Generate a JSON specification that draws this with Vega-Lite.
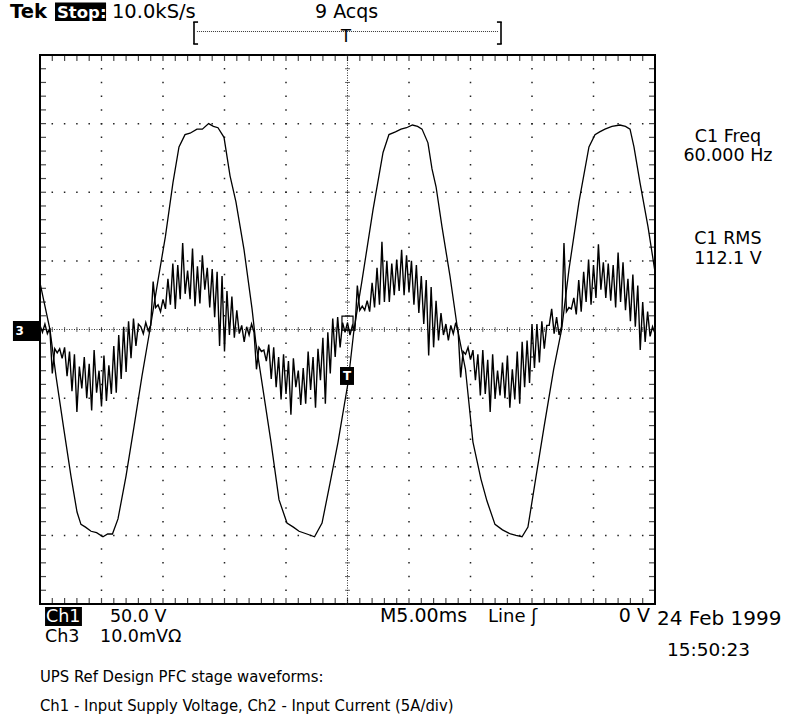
{
  "$schema": "https://vega.github.io/schema/vega-lite/v6.json",
  "width": 615,
  "height": 549,
  "autosize": {"type": "none"},
  "padding": {"left": 40, "top": 55, "right": 130, "bottom": 115},
  "background": "white",
  "config": {"view": {"stroke": "black", "strokeWidth": 2}},
  "datasets": {
    "voltage": [
      {"t":0,"v":34},{"t":0.81,"v":0},{"t":1.30,"v":-34},{"t":1.91,"v":-71},{"t":2.52,"v":-107},{"t":3.01,"v":-133},{"t":3.33,"v":-142},{"t":3.7,"v":-144},{"t":4.15,"v":-147},{"t":4.6,"v":-148},{"t":5.12,"v":-151},{"t":5.5,"v":-149},{"t":5.89,"v":-149},{"t":6.34,"v":-138},{"t":6.99,"v":-107},{"t":7.64,"v":-71},{"t":8.29,"v":-34},{"t":8.94,"v":0},{"t":9.56,"v":34},{"t":10.20,"v":68},{"t":10.81,"v":107},{"t":11.30,"v":133},{"t":11.79,"v":142},{"t":12.2,"v":143},{"t":12.76,"v":146},{"t":13.2,"v":146},{"t":13.71,"v":150},{"t":14.1,"v":148},{"t":14.47,"v":147},{"t":14.96,"v":140},{"t":15.45,"v":112},{"t":15.93,"v":93},{"t":16.59,"v":58},{"t":17.24,"v":15},{"t":17.54,"v":-9},{"t":18.17,"v":-46},{"t":18.78,"v":-82},{"t":19.43,"v":-124},{"t":20.08,"v":-141},{"t":20.6,"v":-144},{"t":21.06,"v":-147},{"t":21.7,"v":-149},{"t":22.32,"v":-151},{"t":22.93,"v":-141},{"t":23.58,"v":-112},{"t":24.23,"v":-82},{"t":25.04,"v":-39},{"t":25.53,"v":0},{"t":26.15,"v":34},{"t":27.07,"v":87},{"t":27.89,"v":129},{"t":28.37,"v":142},{"t":28.9,"v":144},{"t":29.35,"v":146},{"t":29.8,"v":147},{"t":30.28,"v":149},{"t":30.7,"v":148},{"t":31.06,"v":146},{"t":31.54,"v":136},{"t":31.87,"v":117},{"t":32.20,"v":104},{"t":32.68,"v":75},{"t":33.33,"v":39},{"t":33.95,"v":0},{"t":34.59,"v":-29},{"t":35.20,"v":-82},{"t":35.85,"v":-109},{"t":36.34,"v":-125},{"t":36.99,"v":-142},{"t":37.6,"v":-146},{"t":38.26,"v":-149},{"t":38.7,"v":-150},{"t":39.19,"v":-151},{"t":39.67,"v":-144},{"t":40.33,"v":-107},{"t":40.98,"v":-71},{"t":41.76,"v":-29},{"t":42.41,"v":0},{"t":43.01,"v":44},{"t":43.82,"v":93},{"t":44.63,"v":133},{"t":45.12,"v":142},{"t":45.5,"v":144},{"t":45.93,"v":146},{"t":46.5,"v":148},{"t":47.15,"v":149},{"t":47.6,"v":148},{"t":47.97,"v":146},{"t":48.29,"v":133},{"t":48.78,"v":107},{"t":49.43,"v":75},{"t":50,"v":42}
    ],
    "current": [
      {"t":0.0,"i":0.3},{"t":0.2,"i":-0.2},{"t":0.4,"i":0.4},{"t":0.6,"i":-0.3},{"t":0.8,"i":0.1},
      {"t":1.0,"i":-3.2},{"t":1.2,"i":-1.4},{"t":1.4,"i":-1.7},{"t":1.6,"i":-1.4},{"t":1.8,"i":-2.1},{"t":2.0,"i":-1.3},{"t":2.2,"i":-3.4},{"t":2.4,"i":-1.6},{"t":2.6,"i":-4.5},{"t":2.8,"i":-1.8},{"t":3.0,"i":-6.0},{"t":3.2,"i":-2.7},{"t":3.4,"i":-4.3},{"t":3.6,"i":-2.0},{"t":3.8,"i":-5.0},{"t":4.0,"i":-2.5},{"t":4.2,"i":-5.9},{"t":4.4,"i":-1.5},{"t":4.6,"i":-4.6},{"t":4.8,"i":-3.0},{"t":5.0,"i":-5.6},{"t":5.2,"i":-1.9},{"t":5.4,"i":-5.2},{"t":5.6,"i":-2.6},{"t":5.8,"i":-4.7},{"t":6.0,"i":-1.2},{"t":6.2,"i":-4.6},{"t":6.4,"i":-0.4},{"t":6.6,"i":-3.6},{"t":6.8,"i":0.2},{"t":7.0,"i":-3.1},{"t":7.2,"i":0.6},{"t":7.4,"i":-2.1},{"t":7.6,"i":0.8},{"t":7.8,"i":-1.2},{"t":8.0,"i":0.4},
      {"t":8.2,"i":0.2},{"t":8.4,"i":-0.3},{"t":8.6,"i":0.5},{"t":8.8,"i":-0.1},{"t":9.0,"i":0.3},
      {"t":9.2,"i":3.5},{"t":9.4,"i":1.6},{"t":9.6,"i":1.8},{"t":9.8,"i":1.3},{"t":10.0,"i":2.2},{"t":10.2,"i":1.5},{"t":10.4,"i":3.7},{"t":10.6,"i":1.8},{"t":10.8,"i":4.8},{"t":11.0,"i":1.5},{"t":11.2,"i":4.7},{"t":11.4,"i":2.2},{"t":11.6,"i":6.3},{"t":11.8,"i":2.6},{"t":12.0,"i":4.3},{"t":12.2,"i":2.2},{"t":12.4,"i":5.9},{"t":12.6,"i":1.7},{"t":12.8,"i":4.6},{"t":13.0,"i":1.9},{"t":13.2,"i":5.4},{"t":13.4,"i":2.9},{"t":13.6,"i":4.5},{"t":13.8,"i":1.6},{"t":14.0,"i":4.4},{"t":14.2,"i":0.9},{"t":14.4,"i":4.2},{"t":14.6,"i":-1.2},{"t":14.8,"i":3.9},{"t":15.0,"i":-1.6},{"t":15.2,"i":2.8},{"t":15.4,"i":-0.4},{"t":15.6,"i":2.4},{"t":15.8,"i":-0.6},{"t":16.0,"i":1.4},{"t":16.2,"i":-0.3},
      {"t":16.4,"i":0.3},{"t":16.6,"i":-0.9},{"t":16.8,"i":0.2},{"t":17.0,"i":-0.4},{"t":17.2,"i":0.4},{"t":17.4,"i":-0.2},
      {"t":17.6,"i":-2.9},{"t":17.8,"i":-1.3},{"t":18.0,"i":-1.6},{"t":18.2,"i":-1.5},{"t":18.4,"i":-2.3},{"t":18.6,"i":-1.1},{"t":18.8,"i":-3.6},{"t":19.0,"i":-1.3},{"t":19.2,"i":-4.2},{"t":19.4,"i":-2.0},{"t":19.6,"i":-5.1},{"t":19.8,"i":-1.8},{"t":20.0,"i":-4.7},{"t":20.2,"i":-2.3},{"t":20.4,"i":-6.2},{"t":20.6,"i":-2.1},{"t":20.8,"i":-4.2},{"t":21.0,"i":-3.0},{"t":21.2,"i":-5.5},{"t":21.4,"i":-2.8},{"t":21.6,"i":-5.4},{"t":21.8,"i":-1.6},{"t":22.0,"i":-4.4},{"t":22.2,"i":-2.0},{"t":22.4,"i":-5.7},{"t":22.6,"i":-1.4},{"t":22.8,"i":-3.7},{"t":23.0,"i":-0.6},{"t":23.2,"i":-5.4},{"t":23.4,"i":-0.2},{"t":23.6,"i":-3.2},{"t":23.8,"i":0.8},{"t":24.0,"i":-2.0},{"t":24.2,"i":0.9},{"t":24.4,"i":-1.3},{"t":24.6,"i":0.5},
      {"t":24.8,"i":-0.2},{"t":25.0,"i":0.5},{"t":25.2,"i":-0.4},{"t":25.4,"i":0.3},{"t":25.6,"i":-0.1},
      {"t":25.8,"i":3.2},{"t":26.0,"i":1.4},{"t":26.2,"i":1.7},{"t":26.4,"i":1.4},{"t":26.6,"i":2.1},{"t":26.8,"i":1.3},{"t":27.0,"i":3.4},{"t":27.2,"i":1.6},{"t":27.4,"i":4.5},{"t":27.6,"i":1.8},{"t":27.8,"i":6.4},{"t":28.0,"i":2.0},{"t":28.2,"i":5.0},{"t":28.4,"i":2.0},{"t":28.6,"i":4.8},{"t":28.8,"i":2.5},{"t":29.0,"i":5.1},{"t":29.2,"i":2.8},{"t":29.4,"i":5.8},{"t":29.6,"i":2.5},{"t":29.8,"i":5.4},{"t":30.0,"i":2.7},{"t":30.2,"i":5.0},{"t":30.4,"i":1.8},{"t":30.6,"i":4.7},{"t":30.8,"i":1.2},{"t":31.0,"i":3.9},{"t":31.2,"i":0.4},{"t":31.4,"i":3.6},{"t":31.6,"i":-1.9},{"t":31.8,"i":3.1},{"t":32.0,"i":-1.3},{"t":32.2,"i":2.1},{"t":32.4,"i":-0.8},{"t":32.6,"i":1.2},{"t":32.8,"i":-0.4},
      {"t":33.0,"i":0.4},{"t":33.2,"i":-0.8},{"t":33.4,"i":0.3},{"t":33.6,"i":-0.3},{"t":33.8,"i":0.5},{"t":34.0,"i":-0.2},
      {"t":34.2,"i":-3.5},{"t":34.4,"i":-1.6},{"t":34.6,"i":-1.8},{"t":34.8,"i":-1.3},{"t":35.0,"i":-2.2},{"t":35.2,"i":-1.5},{"t":35.4,"i":-3.7},{"t":35.6,"i":-1.8},{"t":35.8,"i":-4.8},{"t":36.0,"i":-1.5},{"t":36.2,"i":-4.7},{"t":36.4,"i":-2.2},{"t":36.6,"i":-6.0},{"t":36.8,"i":-1.8},{"t":37.0,"i":-5.0},{"t":37.2,"i":-3.0},{"t":37.4,"i":-4.8},{"t":37.6,"i":-2.4},{"t":37.8,"i":-5.0},{"t":38.0,"i":-1.9},{"t":38.2,"i":-5.7},{"t":38.4,"i":-2.9},{"t":38.6,"i":-5.1},{"t":38.8,"i":-1.6},{"t":39.0,"i":-5.4},{"t":39.2,"i":-0.9},{"t":39.4,"i":-4.2},{"t":39.6,"i":-0.8},{"t":39.8,"i":-3.9},{"t":40.0,"i":0.4},{"t":40.2,"i":-2.8},{"t":40.4,"i":0.4},{"t":40.6,"i":-2.4},{"t":40.8,"i":0.6},{"t":41.0,"i":-1.4},{"t":41.2,"i":0.3},
      {"t":41.4,"i":0.3},{"t":41.6,"i":1.5},{"t":41.8,"i":-0.3},{"t":42.0,"i":0.9},{"t":42.2,"i":-0.4},{"t":42.4,"i":0.2},
      {"t":42.6,"i":6.3},{"t":42.8,"i":1.3},{"t":43.0,"i":1.6},{"t":43.2,"i":1.5},{"t":43.4,"i":2.3},{"t":43.6,"i":1.1},{"t":43.8,"i":3.6},{"t":44.0,"i":1.3},{"t":44.2,"i":4.2},{"t":44.4,"i":2.0},{"t":44.6,"i":5.1},{"t":44.8,"i":1.8},{"t":45.0,"i":4.7},{"t":45.2,"i":2.3},{"t":45.4,"i":6.2},{"t":45.6,"i":2.9},{"t":45.8,"i":4.9},{"t":46.0,"i":2.3},{"t":46.2,"i":4.8},{"t":46.4,"i":2.1},{"t":46.6,"i":4.7},{"t":46.8,"i":1.6},{"t":47.0,"i":5.6},{"t":47.2,"i":2.0},{"t":47.4,"i":4.9},{"t":47.6,"i":1.4},{"t":47.8,"i":3.7},{"t":48.0,"i":0.6},{"t":48.2,"i":4.0},{"t":48.4,"i":0.2},{"t":48.6,"i":3.2},{"t":48.8,"i":-1.5},{"t":49.0,"i":2.0},{"t":49.2,"i":-0.9},{"t":49.4,"i":1.3},{"t":49.6,"i":-0.5},
      {"t":49.8,"i":0.2},{"t":50.0,"i":-0.3}
    ],
    "majorT": [{"t":5},{"t":10},{"t":15},{"t":20},{"t":30},{"t":35},{"t":40},{"t":45}],
    "majorV": [{"v":-150},{"v":-100},{"v":-50},{"v":50},{"v":100},{"v":150}],
    "minorT": [{"t":0},{"t":1},{"t":2},{"t":3},{"t":4},{"t":5},{"t":6},{"t":7},{"t":8},{"t":9},{"t":10},{"t":11},{"t":12},{"t":13},{"t":14},{"t":15},{"t":16},{"t":17},{"t":18},{"t":19},{"t":20},{"t":21},{"t":22},{"t":23},{"t":24},{"t":25},{"t":26},{"t":27},{"t":28},{"t":29},{"t":30},{"t":31},{"t":32},{"t":33},{"t":34},{"t":35},{"t":36},{"t":37},{"t":38},{"t":39},{"t":40},{"t":41},{"t":42},{"t":43},{"t":44},{"t":45},{"t":46},{"t":47},{"t":48},{"t":49},{"t":50}],
    "minorV": [{"v":-200},{"v":-190},{"v":-180},{"v":-170},{"v":-160},{"v":-150},{"v":-140},{"v":-130},{"v":-120},{"v":-110},{"v":-100},{"v":-90},{"v":-80},{"v":-70},{"v":-60},{"v":-50},{"v":-40},{"v":-30},{"v":-20},{"v":-10},{"v":0},{"v":10},{"v":20},{"v":30},{"v":40},{"v":50},{"v":60},{"v":70},{"v":80},{"v":90},{"v":100},{"v":110},{"v":120},{"v":130},{"v":140},{"v":150},{"v":160},{"v":170},{"v":180},{"v":190},{"v":200}]
  },
  "layer": [
    {
      "layer": [
        {
          "data": {"name": "majorT"},
          "mark": {"type": "rule", "color": "#222", "strokeWidth": 1.5, "strokeDash": [1.5, 12.225], "strokeDashOffset": 0.75},
          "encoding": {"x": {"field": "t", "type": "quantitative", "scale": {"domain": [0, 50], "nice": false, "zero": false}, "axis": null}}
        },
        {
          "data": {"name": "majorV"},
          "mark": {"type": "rule", "color": "#222", "strokeWidth": 1.5, "strokeDash": [1.5, 10.8], "strokeDashOffset": 0.75},
          "encoding": {"y": {"field": "v", "type": "quantitative", "scale": {"domain": [-200, 200], "nice": false, "zero": false}, "axis": null}}
        },
        {
          "data": {"values": [{}]},
          "mark": {"type": "rule", "color": "#333", "strokeWidth": 1, "strokeDash": [1, 1.5]},
          "encoding": {"y": {"datum": 0, "axis": null}}
        },
        {
          "data": {"values": [{}]},
          "mark": {"type": "rule", "color": "#333", "strokeWidth": 1, "strokeDash": [1, 1.5]},
          "encoding": {"x": {"datum": 25, "axis": null}}
        },
        {
          "data": {"name": "minorT"},
          "mark": {"type": "tick", "orient": "vertical", "size": 5, "thickness": 1, "color": "#222"},
          "encoding": {"x": {"field": "t", "type": "quantitative", "axis": null}, "y": {"datum": 0, "axis": null}}
        },
        {
          "data": {"name": "minorV"},
          "mark": {"type": "tick", "orient": "horizontal", "size": 5, "thickness": 1, "color": "#222"},
          "encoding": {"x": {"datum": 25, "axis": null}, "y": {"field": "v", "type": "quantitative", "axis": null}}
        },
        {
          "data": {"name": "minorT"},
          "mark": {"type": "tick", "orient": "vertical", "size": 6, "thickness": 1.2, "color": "black", "yOffset": 3},
          "encoding": {"x": {"field": "t", "type": "quantitative", "axis": null}, "y": {"datum": 200, "axis": null}}
        },
        {
          "data": {"name": "minorT"},
          "mark": {"type": "tick", "orient": "vertical", "size": 6, "thickness": 1.2, "color": "black", "yOffset": -3},
          "encoding": {"x": {"field": "t", "type": "quantitative", "axis": null}, "y": {"datum": -200, "axis": null}}
        },
        {
          "data": {"name": "minorV"},
          "mark": {"type": "tick", "orient": "horizontal", "size": 6, "thickness": 1.2, "color": "black", "xOffset": 3},
          "encoding": {"x": {"datum": 0, "axis": null}, "y": {"field": "v", "type": "quantitative", "axis": null}}
        },
        {
          "data": {"name": "minorV"},
          "mark": {"type": "tick", "orient": "horizontal", "size": 6, "thickness": 1.2, "color": "black", "xOffset": -3},
          "encoding": {"x": {"datum": 50, "axis": null}, "y": {"field": "v", "type": "quantitative", "axis": null}}
        },
        {
          "data": {"name": "voltage"},
          "mark": {"type": "line", "color": "black", "strokeWidth": 1.3},
          "encoding": {
            "x": {"field": "t", "type": "quantitative", "axis": null},
            "y": {"field": "v", "type": "quantitative", "axis": null}
          }
        },
        {
          "data": {"values": [{}]},
          "mark": {"type": "rect", "color": "black"},
          "encoding": {"x": {"datum": -2.2, "axis": null}, "x2": {"datum": 0}, "y": {"datum": 6.2, "axis": null}, "y2": {"datum": -8.4}}
        },
        {
          "data": {"values": [{}]},
          "mark": {"type": "text", "text": "3", "color": "white", "font": "DejaVu Sans", "fontSize": 12, "fontWeight": "bold", "align": "left", "baseline": "middle"},
          "encoding": {"x": {"datum": -2.0, "axis": null}, "y": {"datum": -1.1, "axis": null}}
        },
        {
          "data": {"values": [{}]},
          "mark": {"type": "rect", "color": "black"},
          "encoding": {"x": {"datum": 24.39, "axis": null}, "x2": {"datum": 25.53}, "y": {"datum": -27.3, "axis": null}, "y2": {"datum": -40.4}}
        },
        {
          "data": {"values": [{}]},
          "mark": {"type": "text", "text": "T", "color": "white", "font": "DejaVu Sans", "fontSize": 12, "fontWeight": "bold", "align": "center", "baseline": "middle"},
          "encoding": {"x": {"datum": 24.96, "axis": null}, "y": {"datum": -33.9, "axis": null}}
        },
        {
          "data": {"values": [{}]},
          "mark": {"type": "rect", "fill": null, "stroke": "black", "strokeWidth": 1.2},
          "encoding": {"x": {"datum": 24.55, "axis": null}, "x2": {"datum": 25.45}, "y": {"datum": 9.8, "axis": null}, "y2": {"datum": -0.4}}
        },
        {
          "data": {"values": [{}]},
          "mark": {"type": "text", "text": "Tek", "font": "DejaVu Sans", "fontWeight": "bold", "fontSize": 19.5, "align": "left", "baseline": "alphabetic"},
          "encoding": {"x": {"datum": -2.44, "axis": null}, "y": {"datum": 227.0, "axis": null}}
        },
        {
          "data": {"values": [{}]},
          "mark": {"type": "rect", "color": "black"},
          "encoding": {"x": {"datum": 1.22, "axis": null}, "x2": {"datum": 5.37}, "y": {"datum": 238.2, "axis": null}, "y2": {"datum": 224.8}}
        },
        {
          "data": {"values": [{}]},
          "mark": {"type": "text", "text": "Stop:", "color": "white", "font": "DejaVu Sans", "fontWeight": "bold", "fontSize": 16.5, "align": "left", "baseline": "alphabetic"},
          "encoding": {"x": {"datum": 1.38, "axis": null}, "y": {"datum": 227.0, "axis": null}}
        },
        {
          "data": {"values": [{}]},
          "mark": {"type": "text", "text": "10.0kS/s", "font": "DejaVu Sans", "fontSize": 19.5, "align": "left", "baseline": "alphabetic"},
          "encoding": {"x": {"datum": 5.85, "axis": null}, "y": {"datum": 227.0, "axis": null}}
        },
        {
          "data": {"values": [{}]},
          "mark": {"type": "text", "text": "9 Acqs", "font": "DejaVu Sans", "fontSize": 19, "align": "left", "baseline": "alphabetic"},
          "encoding": {"x": {"datum": 22.36, "axis": null}, "y": {"datum": 227.0, "axis": null}}
        },
        {
          "data": {"values": [{}]},
          "mark": {"type": "rule", "color": "black", "strokeWidth": 1.6},
          "encoding": {"x": {"datum": 12.52, "axis": null}, "y": {"datum": 224.0, "axis": null}, "y2": {"datum": 208.0}}
        },
        {
          "data": {"values": [{}]},
          "mark": {"type": "rule", "color": "black", "strokeWidth": 1.6},
          "encoding": {"x": {"datum": 12.46, "axis": null}, "x2": {"datum": 12.85}, "y": {"datum": 224.0, "axis": null}}
        },
        {
          "data": {"values": [{}]},
          "mark": {"type": "rule", "color": "black", "strokeWidth": 1.6},
          "encoding": {"x": {"datum": 12.46, "axis": null}, "x2": {"datum": 12.85}, "y": {"datum": 208.0, "axis": null}}
        },
        {
          "data": {"values": [{}]},
          "mark": {"type": "rule", "color": "black", "strokeWidth": 1.6},
          "encoding": {"x": {"datum": 37.48, "axis": null}, "y": {"datum": 224.0, "axis": null}, "y2": {"datum": 208.0}}
        },
        {
          "data": {"values": [{}]},
          "mark": {"type": "rule", "color": "black", "strokeWidth": 1.6},
          "encoding": {"x": {"datum": 37.15, "axis": null}, "x2": {"datum": 37.54}, "y": {"datum": 224.0, "axis": null}}
        },
        {
          "data": {"values": [{}]},
          "mark": {"type": "rule", "color": "black", "strokeWidth": 1.6},
          "encoding": {"x": {"datum": 37.15, "axis": null}, "x2": {"datum": 37.54}, "y": {"datum": 208.0, "axis": null}}
        },
        {
          "data": {"values": [{}]},
          "mark": {"type": "rule", "color": "#333", "strokeWidth": 1, "strokeDash": [1, 1]},
          "encoding": {"x": {"datum": 12.76, "axis": null}, "x2": {"datum": 37.24}, "y": {"datum": 217.1, "axis": null}}
        },
        {
          "data": {"values": [{}]},
          "mark": {"type": "text", "text": "T", "font": "Liberation Sans", "fontSize": 18, "align": "center", "baseline": "alphabetic"},
          "encoding": {"x": {"datum": 24.88, "axis": null}, "y": {"datum": 209.4, "axis": null}}
        },
        {
          "data": {"values": [{}]},
          "mark": {"type": "text", "text": "C1 Freq", "font": "DejaVu Sans", "fontSize": 17.5, "align": "center", "baseline": "alphabetic"},
          "encoding": {"x": {"datum": 55.93, "axis": null}, "y": {"datum": 136.6, "axis": null}}
        },
        {
          "data": {"values": [{}]},
          "mark": {"type": "text", "text": "60.000 Hz", "font": "DejaVu Sans", "fontSize": 17.5, "align": "center", "baseline": "alphabetic"},
          "encoding": {"x": {"datum": 55.93, "axis": null}, "y": {"datum": 122.8, "axis": null}}
        },
        {
          "data": {"values": [{}]},
          "mark": {"type": "text", "text": "C1 RMS", "font": "DejaVu Sans", "fontSize": 17.5, "align": "center", "baseline": "alphabetic"},
          "encoding": {"x": {"datum": 55.93, "axis": null}, "y": {"datum": 62.3, "axis": null}}
        },
        {
          "data": {"values": [{}]},
          "mark": {"type": "text", "text": "112.1 V", "font": "DejaVu Sans", "fontSize": 17.5, "align": "center", "baseline": "alphabetic"},
          "encoding": {"x": {"datum": 55.93, "axis": null}, "y": {"datum": 47.7, "axis": null}}
        },
        {
          "data": {"values": [{}]},
          "mark": {"type": "rect", "color": "black"},
          "encoding": {"x": {"datum": 0.41, "axis": null}, "x2": {"datum": 3.41}, "y": {"datum": -202.2, "axis": null}, "y2": {"datum": -216.0}}
        },
        {
          "data": {"values": [{}]},
          "mark": {"type": "text", "text": "Ch1", "color": "white", "font": "DejaVu Sans", "fontSize": 17.5, "align": "left", "baseline": "alphabetic"},
          "encoding": {"x": {"datum": 0.49, "axis": null}, "y": {"datum": -213.1, "axis": null}}
        },
        {
          "data": {"values": [{}]},
          "mark": {"type": "text", "text": "50.0 V", "font": "DejaVu Sans", "fontSize": 17.5, "align": "left", "baseline": "alphabetic"},
          "encoding": {"x": {"datum": 5.69, "axis": null}, "y": {"datum": -213.1, "axis": null}}
        },
        {
          "data": {"values": [{}]},
          "mark": {"type": "text", "text": "Ch3", "font": "DejaVu Sans", "fontSize": 17.5, "align": "left", "baseline": "alphabetic"},
          "encoding": {"x": {"datum": 0.41, "axis": null}, "y": {"datum": -227.7, "axis": null}}
        },
        {
          "data": {"values": [{}]},
          "mark": {"type": "text", "text": "10.0mVΩ", "font": "DejaVu Sans", "fontSize": 17.5, "align": "left", "baseline": "alphabetic"},
          "encoding": {"x": {"datum": 4.88, "axis": null}, "y": {"datum": -227.7, "axis": null}}
        },
        {
          "data": {"values": [{}]},
          "mark": {"type": "text", "text": "M5.00ms", "font": "DejaVu Sans", "fontSize": 19, "align": "left", "baseline": "alphabetic"},
          "encoding": {"x": {"datum": 27.64, "axis": null}, "y": {"datum": -213.1, "axis": null}}
        },
        {
          "data": {"values": [{}]},
          "mark": {"type": "text", "text": "Line ʃ", "font": "DejaVu Sans", "fontSize": 18, "align": "left", "baseline": "alphabetic"},
          "encoding": {"x": {"datum": 36.42, "axis": null}, "y": {"datum": -213.1, "axis": null}}
        },
        {
          "data": {"values": [{}]},
          "mark": {"type": "text", "text": "0 V", "font": "DejaVu Sans", "fontSize": 19, "align": "right", "baseline": "alphabetic"},
          "encoding": {"x": {"datum": 49.59, "axis": null}, "y": {"datum": -213.1, "axis": null}}
        },
        {
          "data": {"values": [{}]},
          "mark": {"type": "text", "text": "24 Feb 1999", "font": "DejaVu Sans", "fontSize": 20, "align": "left", "baseline": "alphabetic"},
          "encoding": {"x": {"datum": 50.16, "axis": null}, "y": {"datum": -215.3, "axis": null}}
        },
        {
          "data": {"values": [{}]},
          "mark": {"type": "text", "text": "15:50:23", "font": "DejaVu Sans", "fontSize": 18.5, "align": "left", "baseline": "alphabetic"},
          "encoding": {"x": {"datum": 50.98, "axis": null}, "y": {"datum": -237.9, "axis": null}}
        },
        {
          "data": {"values": [{}]},
          "mark": {"type": "text", "text": "UPS Ref Design PFC stage waveforms:", "font": "Liberation Sans Narrow, DejaVu Sans Condensed, sans-serif", "fontSize": 16.5, "align": "left", "baseline": "alphabetic"},
          "encoding": {"x": {"datum": 0, "axis": null}, "y": {"datum": -256.8, "axis": null}}
        },
        {
          "data": {"values": [{}]},
          "mark": {"type": "text", "text": "Ch1 - Input Supply Voltage, Ch2 - Input Current (5A/div)", "font": "Liberation Sans Narrow, DejaVu Sans Condensed, sans-serif", "fontSize": 16.5, "align": "left", "baseline": "alphabetic"},
          "encoding": {"x": {"datum": 0, "axis": null}, "y": {"datum": -278.0, "axis": null}}
        }
      ]
    },
    {
      "layer": [
        {
          "data": {"name": "current"},
          "mark": {"type": "line", "color": "black", "strokeWidth": 1.4},
          "encoding": {
            "x": {"field": "t", "type": "quantitative", "axis": null},
            "y": {"field": "i", "type": "quantitative", "scale": {"domain": [-20, 20], "nice": false, "zero": false}, "axis": null}
          }
        }
      ]
    }
  ],
  "resolve": {"scale": {"y": "independent"}}
}
